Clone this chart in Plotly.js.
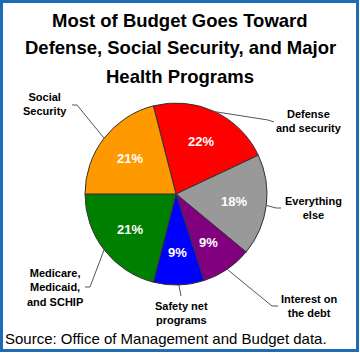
<!DOCTYPE html>
<html>
<head>
<meta charset="utf-8">
<script src="https://cdn.plot.ly/plotly-3.0.1.min.js"></script>
<style>html,body{margin:0;padding:0;background:#fff;}#chart{width:360px;height:353px;}</style>
</head>
<body>
<div id="chart"></div>
<script>
// ---- data ----
var categories = ["Defense<br>and security", "Everything<br>else", "Interest on<br>the debt", "Safety net<br>programs", "Medicare,<br>Medicaid,<br>and SCHIP", "Social<br>Security"];
var values = [22, 18, 9, 9, 21, 21];
var colors = ["#FF0000", "#999999", "#800080", "#0000FF", "#008000", "#FF9900"];
var titleLines = ["Most of Budget Goes Toward", "Defense, Social Security, and Major", "Health Programs"];
var sourceText = "Source: Office of Management and Budget data.";

// ---- layout helpers (pixel geometry) ----
var W = 360, H = 353;
var cx = 176, cy = 194, R = 91;
var rotation = -14.4;
function px(x){ return x / W; }
function py(y){ return 1 - y / H; }

// label placement (pixel positions of label centres and leader-line elbows)
var labelPos = [
  {x: 309, y: 121, elbow: [[268,120],[274,122]]},
  {x: 313, y: 208, elbow: [[276,208],[281,208]]},
  {x: 309, y: 306, elbow: [[272,306],[278,306]]},
  {x: 181, y: 313, elbow: [[181,296]]},
  {x: 55, y: 287, elbow: [[90,287],[85,287]]},
  {x: 45, y: 104, elbow: [[77,105],[72,105]]}
];
var pctRadius = 0.64;

var total = values.reduce(function(a,b){return a+b;}, 0);
var shapes = [];
var annotations = [];
var acc = 0;
for (var i = 0; i < values.length; i++) {
  var mid = rotation + (acc + values[i] / 2) / total * 360;
  acc += values[i];
  var th = mid * Math.PI / 180;
  var ex = cx + R * Math.sin(th), ey = cy - R * Math.cos(th);
  var d = "M " + px(ex) + "," + py(ey);
  labelPos[i].elbow.forEach(function(p){ d += " L " + px(p[0]) + "," + py(p[1]); });
  shapes.push({type: "path", xref: "paper", yref: "paper", path: d, line: {color: "#555555", width: 1}});
  annotations.push({
    text: "<b>" + categories[i] + "</b>", x: px(labelPos[i].x), y: py(labelPos[i].y),
    xref: "paper", yref: "paper", xanchor: "center", yanchor: "middle", showarrow: false,
    font: {family: "Liberation Sans, Arial, sans-serif", size: 11, color: "#000000"}
  });
  // percentage label inside slice
  var tx = cx + pctRadius * R * Math.sin(th), ty = cy - pctRadius * R * Math.cos(th);
  annotations.push({
    text: "<b>" + Math.round(values[i] / total * 100) + "%</b>", x: px(tx), y: py(ty),
    xref: "paper", yref: "paper", xanchor: "center", yanchor: "middle", showarrow: false,
    font: {family: "Liberation Sans, Arial, sans-serif", size: 13, color: "#FFFFFF"}
  });
}

var titleY = [20, 48, 76];
titleLines.forEach(function(t, k){
  annotations.push({
    text: "<b>" + t + "</b>", x: 0.5, y: py(titleY[k]), xref: "paper", yref: "paper",
    xanchor: "center", yanchor: "middle", showarrow: false,
    font: {family: "Liberation Sans, Arial, sans-serif", size: 18.5, color: "#000000"}
  });
});

annotations.push({
  text: sourceText, x: px(3), y: py(338), xref: "paper", yref: "paper",
  xanchor: "left", yanchor: "middle", showarrow: false,
  font: {family: "Liberation Sans, Arial, sans-serif", size: 15, color: "#000000"}
});

// outer border
shapes.push({type: "rect", xref: "paper", yref: "paper", x0: px(1.5), x1: px(W - 2.5), y0: py(H - 2.5), y1: py(1.5),
  line: {color: "#1E6BB8", width: 3}});

var trace = {
  type: "pie",
  labels: categories,
  values: values,
  sort: false,
  direction: "clockwise",
  rotation: rotation,
  marker: {colors: colors, line: {color: "#333333", width: 1}},
  textinfo: "none",
  hoverinfo: "label+percent",
  domain: {x: [px(cx - R), px(cx + R)], y: [py(cy + R), py(cy - R)]}
};

var layout = {
  width: W, height: H,
  margin: {l: 0, r: 0, t: 0, b: 0},
  showlegend: false,
  paper_bgcolor: "#FFFFFF",
  shapes: shapes,
  annotations: annotations
};

Plotly.newPlot("chart", [trace], layout, {displayModeBar: false, staticPlot: true});
</script>
</body>
</html>
